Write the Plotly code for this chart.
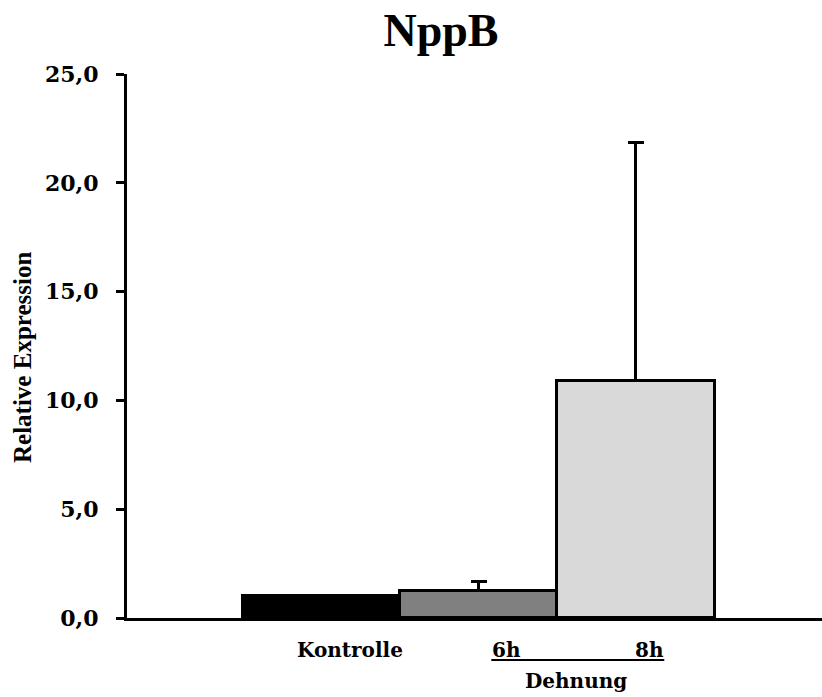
import plotly.graph_objects as go

categories = ["Kontrolle", "6h", "8h"]
values = [1.0, 1.22, 10.88]
errors_up = [0.0, 0.47, 10.95]
colors = ["#000000", "#808080", "#d9d9d9"]
yticks = [0, 5, 10, 15, 20, 25]
yticktext = [f"<b>{v:.1f}</b>".replace(".", ",") for v in yticks]

FONT = "DejaVu Serif, Liberation Serif, serif"
FONT2 = "Liberation Serif, DejaVu Serif, serif"

fig = go.Figure()
# error bars (upper only) drawn first; the bars drawn on top hide the lower cap
fig.add_trace(go.Bar(
    x=[0, 1, 2],
    y=values,
    width=1.0,
    marker=dict(color="rgba(0,0,0,0)", line=dict(width=0)),
    error_y=dict(type="data", symmetric=False, array=errors_up, arrayminus=[0, 0, 0],
                 color="black", thickness=3, width=8, visible=True),
    showlegend=False, hoverinfo="skip",
))
fig.add_trace(go.Bar(
    x=[0, 1, 2],
    y=values,
    width=1.0,
    marker=dict(color=colors, line=dict(color="black", width=3)),
    showlegend=False,
))

fig.update_layout(
    width=822, height=697,
    margin=dict(l=127, r=0, t=74, b=79),
    paper_bgcolor="white", plot_bgcolor="white",
    barmode="overlay",
    bargap=0,
    title=dict(text="<b>NppB</b>", x=441 / 822, xanchor="center", xref="container",
               y=1 - 30 / 697, yanchor="middle", yref="container",
               font=dict(family=FONT2, size=46, color="black")),
    font=dict(family=FONT, color="black"),
    xaxis=dict(range=[-1.237, 3.183], showline=True, linecolor="black", linewidth=3,
               showticklabels=False, ticks="", showgrid=False, zeroline=False, fixedrange=True),
    yaxis=dict(range=[0, 25], tickvals=yticks, ticktext=yticktext, showline=True,
               linecolor="black", linewidth=3, ticks="outside", ticklen=8, tickwidth=3,
               tickcolor="black", showgrid=False, zeroline=False, ticklabelstandoff=13,
               tickfont=dict(family=FONT, size=22, color="black")),
)

fig.add_annotation(x=(23 - 127) / 695, y=(618 - 358) / 544, xref="paper", yref="paper",
                   xanchor="center", yanchor="middle", textangle=-90,
                   text="<b>Relative Expression</b>", showarrow=False,
                   font=dict(family=FONT2, size=25, color="black"))

label_x = [0.18, 1.175, 2.085]
for cat, lx in zip(categories, label_x):
    fig.add_annotation(x=lx, y=-0.0588, xref="x", yref="paper", yanchor="middle",
                       text=f"<b>{cat}</b>", showarrow=False,
                       font=dict(family=FONT, size=20, color="black"))
fig.add_annotation(x=1.62, y=-0.1155, xref="x", yref="paper", yanchor="middle",
                   text="<b>Dehnung</b>", showarrow=False,
                   font=dict(family=FONT, size=20, color="black"))
fig.add_shape(type="line", xref="x", yref="paper", x0=1.08, x1=2.18, y0=-0.0772, y1=-0.0772,
              line=dict(color="black", width=2))

fig.write_html("out.html")
